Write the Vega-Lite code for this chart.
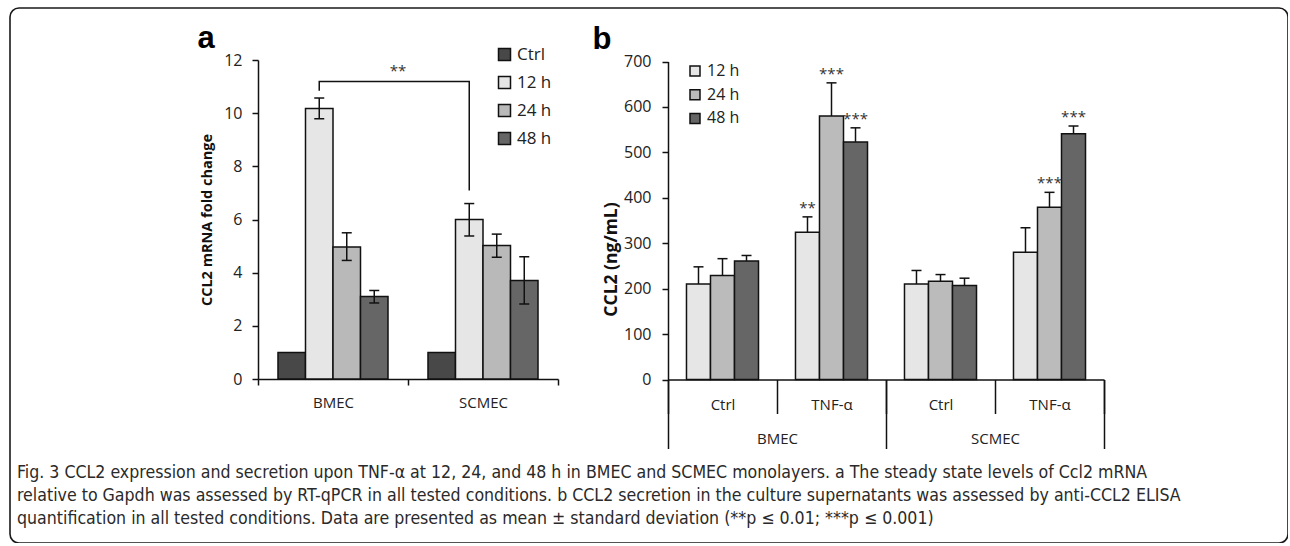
{
  "$schema": "https://vega.github.io/schema/vega-lite/v6.json",
  "width": 1278,
  "height": 535,
  "autosize": {"type": "none"},
  "padding": {"left": 10, "top": 8, "right": 0, "bottom": 0},
  "background": "white",
  "config": {
    "view": {"stroke": "#1a1a1a", "strokeWidth": 1.6, "cornerRadius": 9},
    "font": "Open Sans",
    "axis": {
      "grid": false,
      "domainColor": "#111",
      "domainWidth": 1.5,
      "tickColor": "#111",
      "tickWidth": 1.5,
      "labelFont": "Open Sans",
      "labelFontSize": 15,
      "labelColor": "#222",
      "titleFont": "Open Sans",
      "titleFontWeight": "bold",
      "titleColor": "#111"
    }
  },
  "title": {
    "text": [
      "Fig. 3 CCL2 expression and secretion upon TNF-α at 12, 24, and 48 h in BMEC and SCMEC monolayers. a The steady state levels of Ccl2 mRNA",
      "relative to Gapdh was assessed by RT-qPCR in all tested conditions. b CCL2 secretion in the culture supernatants was assessed by anti-CCL2 ELISA",
      "quantification in all tested conditions. Data are presented as mean ± standard deviation (**p ≤ 0.01; ***p ≤ 0.001)"
    ],
    "orient": "bottom",
    "anchor": "start",
    "frame": "group",
    "offset": -79,
    "dx": 7,
    "font": "DejaVu Sans Condensed, Open Sans",
    "fontSize": 17.6,
    "fontWeight": "normal",
    "color": "#2a2a2a",
    "lineHeight": 23,
    "baseline": "top"
  },
  "datasets": {
    "A": [
      {"cell": "BMEC", "time": "Ctrl", "val": 1},
      {"cell": "BMEC", "time": "12 h", "val": 10.18, "lo": 9.79, "hi": 10.57},
      {"cell": "BMEC", "time": "24 h", "val": 4.97, "lo": 4.46, "hi": 5.5},
      {"cell": "BMEC", "time": "48 h", "val": 3.1, "lo": 2.86, "hi": 3.33},
      {"cell": "SCMEC", "time": "Ctrl", "val": 1},
      {"cell": "SCMEC", "time": "12 h", "val": 6.0, "lo": 5.38, "hi": 6.6},
      {"cell": "SCMEC", "time": "24 h", "val": 5.02, "lo": 4.58, "hi": 5.45},
      {"cell": "SCMEC", "time": "48 h", "val": 3.71, "lo": 2.82, "hi": 4.6}
    ],
    "bracket": [
      {"cell": "BMEC", "time": "12 h", "y": 10.84, "o": 1},
      {"cell": "BMEC", "time": "12 h", "y": 11.19, "o": 2},
      {"cell": "SCMEC", "time": "12 h", "y": 11.19, "o": 3},
      {"cell": "SCMEC", "time": "12 h", "y": 7.09, "o": 4}
    ],
    "sigA": [{"cell": "BMEC", "y": 11.19, "star": "**"}],
    "B": [
      {"group": "BMEC|Ctrl", "time": "12 h", "val": 210, "hi": 248},
      {"group": "BMEC|Ctrl", "time": "24 h", "val": 229, "hi": 266},
      {"group": "BMEC|Ctrl", "time": "48 h", "val": 261, "hi": 273},
      {"group": "BMEC|TNF-α", "time": "12 h", "val": 324, "hi": 358, "star": "**"},
      {"group": "BMEC|TNF-α", "time": "24 h", "val": 580, "hi": 653, "star": "***"},
      {"group": "BMEC|TNF-α", "time": "48 h", "val": 523, "hi": 554, "star": "***"},
      {"group": "SCMEC|Ctrl", "time": "12 h", "val": 210, "hi": 240},
      {"group": "SCMEC|Ctrl", "time": "24 h", "val": 216, "hi": 231},
      {"group": "SCMEC|Ctrl", "time": "48 h", "val": 207, "hi": 223},
      {"group": "SCMEC|TNF-α", "time": "12 h", "val": 280, "hi": 334},
      {"group": "SCMEC|TNF-α", "time": "24 h", "val": 379, "hi": 412, "star": "***"},
      {"group": "SCMEC|TNF-α", "time": "48 h", "val": 541, "hi": 558, "star": "***"}
    ],
    "cells": [{"cell": "BMEC"}, {"cell": "SCMEC"}]
  },
  "layer": [
    {
      "layer": [
        {
          "data": {"name": "A"},
          "mark": {"type": "bar", "stroke": "#111", "strokeWidth": 1.5},
          "encoding": {
            "x": {
              "field": "cell", "type": "nominal",
              "scale": {"domain": ["BMEC", "SCMEC"], "range": [248, 548], "paddingInner": 0, "paddingOuter": 0},
              "axis": {"orient": "bottom", "offset": -164, "title": null, "labelAngle": 0, "tickBand": "extent", "tickSize": 6, "labelPadding": 10}
            },
            "xOffset": {"field": "time", "type": "nominal", "scale": {"domain": ["Ctrl", "12 h", "24 h", "48 h"], "paddingInner": 0, "paddingOuter": 0.727}},
            "y": {
              "field": "val", "type": "quantitative",
              "scale": {"domain": [0, 12], "range": [371, 52], "nice": false},
              "axis": {"orient": "left", "offset": -248, "title": "CCL2 mRNA fold change", "titleFontSize": 14.5, "titlePadding": 9, "values": [0, 2, 4, 6, 8, 10, 12], "tickSize": 6, "labelPadding": 10, "labelFontSize": 16}
            },
            "color": {
              "field": "time", "type": "nominal",
              "scale": {"domain": ["Ctrl", "12 h", "24 h", "48 h"], "range": ["#484848", "#e6e6e6", "#b9b9b9", "#666666"]},
              "legend": {"orient": "none", "legendX": 486, "legendY": 38, "title": null, "symbolType": "square", "symbolSize": 144, "symbolStrokeColor": "#111", "symbolStrokeWidth": 1.5, "labelFontSize": 17, "labelFont": "Open Sans", "labelColor": "#222", "rowPadding": 9, "labelOffset": 4, "padding": 0}
            }
          }
        },
        {
          "data": {"name": "A"},
          "transform": [{"filter": "isValid(datum.hi)"}],
          "mark": {"type": "rule", "color": "#111", "strokeWidth": 1.5},
          "encoding": {
            "x": {"field": "cell", "type": "nominal", "axis": null},
            "xOffset": {"field": "time", "type": "nominal"},
            "y": {"field": "lo", "type": "quantitative", "axis": null},
            "y2": {"field": "hi"}
          }
        },
        {
          "data": {"name": "A"},
          "transform": [{"filter": "isValid(datum.hi)"}],
          "mark": {"type": "tick", "color": "#111", "size": 10, "thickness": 1.5, "opacity": 1},
          "encoding": {
            "x": {"field": "cell", "type": "nominal", "axis": null},
            "xOffset": {"field": "time", "type": "nominal"},
            "y": {"field": "hi", "type": "quantitative", "axis": null}
          }
        },
        {
          "data": {"name": "A"},
          "transform": [{"filter": "isValid(datum.lo)"}],
          "mark": {"type": "tick", "color": "#111", "size": 10, "thickness": 1.5, "opacity": 1},
          "encoding": {
            "x": {"field": "cell", "type": "nominal", "axis": null},
            "xOffset": {"field": "time", "type": "nominal"},
            "y": {"field": "lo", "type": "quantitative", "axis": null}
          }
        },
        {
          "data": {"name": "bracket"},
          "mark": {"type": "line", "color": "#111", "strokeWidth": 1.5},
          "encoding": {
            "x": {"field": "cell", "type": "nominal", "axis": {"orient": "top", "domain": false, "ticks": false, "labels": false, "title": "a", "titleFont": "Liberation Sans", "titleFontSize": 31, "titleFontWeight": "bold", "titleColor": "#000", "titleX": 187, "titleY": 39, "titleAlign": "left", "titleAnchor": null, "titleBaseline": "alphabetic", "titleAngle": 0}},
            "xOffset": {"field": "time", "type": "nominal"},
            "y": {"field": "y", "type": "quantitative", "axis": null},
            "order": {"field": "o"}
          }
        },
        {
          "data": {"name": "sigA"},
          "mark": {"type": "text", "fontSize": 15, "color": "#333", "baseline": "alphabetic", "dy": -6, "dx": -10},
          "encoding": {
            "x": {"field": "cell", "type": "nominal", "bandPosition": 1, "axis": null},
            "y": {"field": "y", "type": "quantitative", "axis": null},
            "text": {"field": "star"}
          }
        }
      ],
      "resolve": {"axis": {"x": "independent", "y": "independent"}}
    },
    {
      "layer": [
        {
          "data": {"name": "B"},
          "mark": {"type": "bar", "stroke": "#111", "strokeWidth": 1.5},
          "encoding": {
            "x": {
              "field": "group", "type": "nominal",
              "scale": {"domain": ["BMEC|Ctrl", "BMEC|TNF-α", "SCMEC|Ctrl", "SCMEC|TNF-α"], "range": [658, 1094], "paddingInner": 0, "paddingOuter": 0},
              "axis": {"orient": "bottom", "offset": -163.5, "title": null, "labelAngle": 0, "tickBand": "extent", "tickSize": 34, "labelPadding": -16, "labelExpr": "split(datum.value, '|')[1]"}
            },
            "xOffset": {"field": "time", "type": "nominal", "scale": {"domain": ["12 h", "24 h", "48 h"], "paddingInner": 0, "paddingOuter": 0.77}},
            "y": {
              "field": "val", "type": "quantitative",
              "scale": {"domain": [0, 700], "range": [371.5, 53.5], "nice": false},
              "axis": {"orient": "left", "offset": -658, "title": "CCL2  (ng/mL)", "titleFontSize": 17.5, "titlePadding": 3, "titleY": 251, "values": [0, 100, 200, 300, 400, 500, 600, 700], "tickSize": 6, "labelPadding": 11, "labelFontSize": 16}
            },
            "color": {
              "field": "time", "type": "nominal",
              "scale": {"domain": ["12 h", "24 h", "48 h"], "range": ["#e6e6e6", "#bbbbbb", "#666666"]},
              "legend": {"orient": "none", "legendX": 677, "legendY": 55, "title": null, "symbolType": "square", "symbolSize": 100, "symbolStrokeColor": "#111", "symbolStrokeWidth": 1.5, "labelFontSize": 16, "labelFont": "Open Sans", "labelColor": "#222", "rowPadding": 7.7, "labelOffset": 4, "padding": 0}
            }
          }
        },
        {
          "data": {"name": "B"},
          "mark": {"type": "rule", "color": "#111", "strokeWidth": 1.5},
          "encoding": {
            "x": {"field": "group", "type": "nominal", "axis": null},
            "xOffset": {"field": "time", "type": "nominal"},
            "y": {"field": "val", "type": "quantitative", "axis": null},
            "y2": {"field": "hi"}
          }
        },
        {
          "data": {"name": "B"},
          "mark": {"type": "tick", "color": "#111", "size": 10, "thickness": 1.5, "opacity": 1},
          "encoding": {
            "x": {"field": "group", "type": "nominal", "axis": null},
            "xOffset": {"field": "time", "type": "nominal"},
            "y": {"field": "hi", "type": "quantitative", "axis": null}
          }
        },
        {
          "data": {"name": "B"},
          "transform": [{"filter": "isValid(datum.star)"}],
          "mark": {"type": "text", "fontSize": 15, "color": "#333", "baseline": "alphabetic", "dy": -4},
          "encoding": {
            "x": {"field": "group", "type": "nominal", "axis": {"orient": "top", "domain": false, "ticks": false, "labels": false, "title": "b", "titleFont": "Liberation Sans", "titleFontSize": 31, "titleFontWeight": "bold", "titleColor": "#000", "titleX": 582, "titleY": 40, "titleAlign": "left", "titleAnchor": null, "titleBaseline": "alphabetic", "titleAngle": 0}},
            "xOffset": {"field": "time", "type": "nominal"},
            "y": {"field": "hi", "type": "quantitative", "axis": null},
            "text": {"field": "star"}
          }
        }
      ],
      "resolve": {"axis": {"x": "independent", "y": "independent"}}
    },
    {
      "data": {"name": "cells"},
      "mark": {"type": "text", "text": ""},
      "encoding": {
        "x": {
          "field": "cell", "type": "nominal",
          "scale": {"domain": ["BMEC", "SCMEC"], "range": [658, 1094], "paddingInner": 0, "paddingOuter": 0},
          "axis": {"orient": "bottom", "offset": -163.5, "title": null, "labelAngle": 0, "tickBand": "extent", "tickSize": 69, "labelPadding": -17, "domain": false}
        }
      }
    }
  ],
  "resolve": {
    "scale": {"x": "independent", "y": "independent", "xOffset": "independent", "color": "independent"},
    "axis": {"x": "independent", "y": "independent"},
    "legend": {"color": "independent"}
  }
}
